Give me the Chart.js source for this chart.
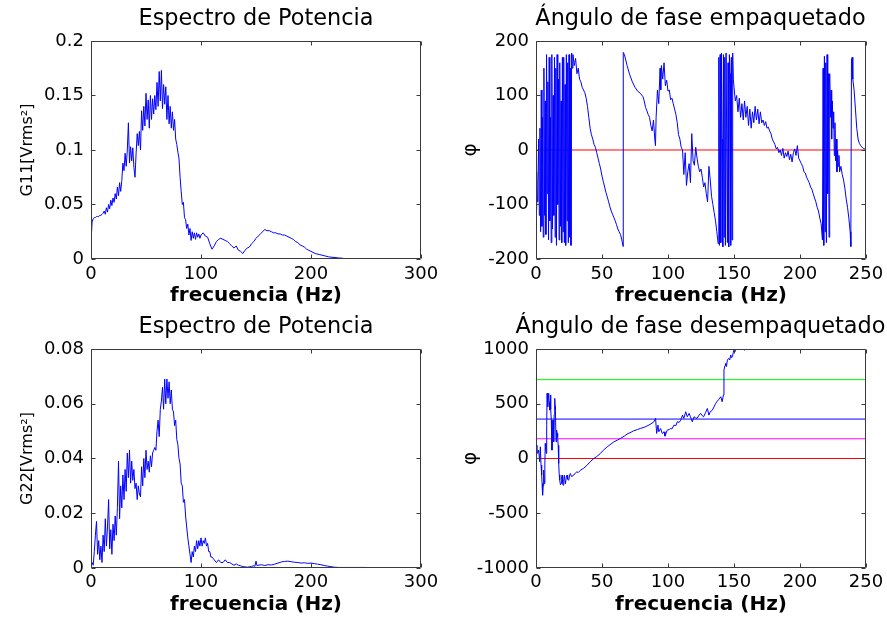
<!DOCTYPE html>
<html>
<head>
<meta charset="utf-8">
<title>Espectro de potencia y ángulo de fase</title>
<script src="https://cdn.jsdelivr.net/npm/chart.js@4/dist/chart.umd.min.js"></script>
<style>
  html, body { margin: 0; padding: 0; background: #fff; width: 887px; height: 624px; overflow: hidden; }
  .panel { position: absolute; }
  .panel canvas { display: block; }
</style>
</head>
<body>
<div class="panel" style="left:0;top:0"><canvas id="g11" width="512" height="312"></canvas></div>
<div class="panel" style="left:443px;top:0"><canvas id="wrap" width="515" height="312"></canvas></div>
<div class="panel" style="left:0;top:312px"><canvas id="g22" width="512" height="312"></canvas></div>
<div class="panel" style="left:443px;top:312px"><canvas id="unwrap" width="515" height="312"></canvas></div>
<script>
// ── Data ─────────────────────────────────────────────────────────
const freqG11 = [
  0,1,2,3,4,5,6,7,8,9,10,11,12,13,14,15,16,17,18,19,
  20,21,22,23,24,25,26,27,28,29,30,31,32,33,34,35,36,37,38,39,
  40,41,42,43,44,45,46,47,48,49,50,51,52,53,54,55,56,57,58,59,
  60,61,62,63,64,65,66,67,68,69,70,71,72,73,74,75,76,77,78,79,
  80,81,82,83,84,85,86,87,88,89,90,91,92,93,94,95,96,97,98,99,100,
  102,104,106,108,110,112,114,116,118,120,122,124,126,128,130,132,134,136,138,140,
  142,144,146,148,150,152,154,156,158,160,162,164,166,168,170,172,174,176,178,180,
  182,184,186,188,190,192,194,196,198,200,
  204,208,212,216,220,225,230,235,240,250
];
const valG11 = [
  0.015,0.034,0.037,0.038,0.038,0.039,0.039,0.039,0.040,0.040,
  0.041,0.042,0.044,0.041,0.047,0.043,0.050,0.046,0.054,0.049,
  0.056,0.052,0.060,0.055,0.066,0.058,0.070,0.062,0.072,0.088,
  0.081,0.097,0.085,0.100,0.125,0.088,0.103,0.090,0.102,0.084,
  0.075,0.097,0.115,0.104,0.117,0.100,0.136,0.118,0.140,0.122,
  0.152,0.128,0.146,0.120,0.150,0.128,0.147,0.133,0.150,0.137,
  0.162,0.140,0.172,0.145,0.173,0.138,0.160,0.142,0.158,0.128,
  0.150,0.124,0.140,0.120,0.135,0.118,0.128,0.110,0.105,0.098,
  0.092,0.075,0.062,0.050,0.052,0.038,0.036,0.028,0.032,0.022,
  0.028,0.017,0.025,0.019,0.024,0.018,0.024,0.020,0.023,0.019,0.022,
  0.024,0.021,0.020,0.014,0.009,0.012,0.016,0.018,0.019,0.018,
  0.017,0.016,0.014,0.012,0.010,0.012,0.008,0.007,0.005,0.008,
  0.010,0.011,0.014,0.016,0.019,0.021,0.023,0.025,0.027,0.026,
  0.026,0.025,0.024,0.024,0.023,0.023,0.022,0.022,0.021,0.020,
  0.019,0.018,0.016,0.015,0.013,0.012,0.011,0.009,0.008,0.007,
  0.005,0.004,0.003,0.002,0.0015,0.001,0.0005,0.0002,0.0001,0.0001
];

const freqG22 = [
  0,1,2,3,4,5,6,7,8,9,10,11,12,13,14,15,16,17,18,19,
  20,21,22,23,24,25,26,27,28,29,30,31,32,33,34,35,36,37,38,39,
  40,41,42,43,44,45,46,47,48,49,50,51,52,53,54,55,56,57,58,59,
  60,61,62,63,64,65,66,67,68,69,70,71,72,73,74,75,76,77,78,79,
  80,81,82,83,84,85,86,87,88,89,90,91,92,93,94,95,96,97,98,99,
  100,101,102,103,104,105,106,107,108,109,110,
  112,114,116,118,120,122,124,126,128,130,132,134,136,138,140,142,144,146,148,
  149,150,151,152,
  155,158,161,164,167,170,173,176,179,182,185,188,191,194,197,200,203,206,209,212,215,218,
  221,225,230,240,250
];
const valG22 = [
  0.001,0.002,0.001,0.006,0.012,0.017,0.005,0.010,0.003,0.008,
  0.002,0.012,0.006,0.018,0.008,0.015,0.025,0.007,0.014,0.005,
  0.016,0.010,0.019,0.012,0.022,0.039,0.018,0.030,0.022,0.034,
  0.025,0.036,0.028,0.042,0.033,0.043,0.031,0.039,0.032,0.036,
  0.029,0.031,0.025,0.030,0.027,0.026,0.037,0.030,0.040,0.033,
  0.043,0.036,0.039,0.035,0.041,0.037,0.042,0.043,0.044,0.043,
  0.050,0.054,0.048,0.058,0.061,0.066,0.058,0.069,0.060,0.069,
  0.062,0.068,0.060,0.065,0.058,0.057,0.052,0.054,0.047,0.045,
  0.040,0.038,0.031,0.030,0.024,0.025,0.019,0.015,0.011,0.008,
  0.005,0.002,0.006,0.004,0.008,0.006,0.010,0.007,0.010,0.008,
  0.011,0.008,0.010,0.009,0.011,0.008,0.009,0.006,0.006,0.004,0.004,
  0.003,0.002,0.003,0.002,0.002,0.003,0.002,0.002,0.0015,0.001,0.0015,0.001,0.0008,0.0005,0.0004,0.0003,0.0004,0.0006,0.0008,
  0.0006,0.0025,0.0008,0.001,
  0.0012,0.0009,0.0012,0.0011,0.0014,0.0018,0.0022,0.0024,0.0025,0.0023,0.0021,0.0020,0.0018,0.0019,0.0017,0.0018,0.0016,0.0014,0.0012,0.0009,0.0007,0.0005,
  0.0003,0.0002,0.0002,0.0002,0.0002
];

// wrapped phase [frequency Hz, degrees]
const phaseWrapped = [
  [0,-110],[0.5,-40],[1,-95],[1.5,-60],[2,20],[2.5,-120],[3,40],[3.5,-150],[4,110],[4.5,-140],
  [5,60],[5.5,-160],[6,150],[6.5,-120],[7,90],[7.5,-155],[8,175],[8.5,-80],[9,125],[9.5,-165],
  [10,170],[10.5,-130],[11,60],[11.5,-170],[12,175],[12.5,-145],[13,100],[13.5,-120],[14,170],[14.5,-160],
  [15,150],[15.5,-175],[16,175],[16.5,-100],[17,130],[17.5,-165],[18,160],[18.5,-140],[19,90],[19.5,-170],
  [20,170],[20.5,-150],[21,170],[21.5,-170],[22,120],[22.5,-175],[23,175],[23.5,-130],[24,160],[24.5,-170],
  [25,175],[25.5,-160],[26,150],[26.5,-175],[27,178],[27.5,150],[28,175],
  [29,155],[30,168],[31,140],[32,150],[33,130],[34,125],[35,115],[36,110],[37,105],[38,95],
  [39,80],[40,60],[41,40],[42,28],[43,20],[44,10],[45,5],[46,-5],[47,-15],[48,-25],
  [49,-35],[50,-48],[51,-58],[52,-68],[53,-78],[54,-86],[55,-95],[56,-104],[57,-112],[58,-118],
  [59,-124],[60,-130],[61,-137],[62,-145],[63,-150],[64,-155],[65,-165],[66,-177],[66.1,179],
  [67,175],[69,155],[71,138],[73,125],[75,115],[77,108],[79,104],[81,98],[82,90],[83,78],
  [84,72],[85,65],[86,60],[87,45],[88,35],[89,55],[90,20],[90.5,8],[91,60],[92,110],
  [93,85],[94,150],[94.5,110],[95,155],[96,130],[97,160],[98,118],[99,128],[100,108],[101,110],
  [102,92],[103,95],[104,85],[105,75],[106,65],[107,50],[108,28],[109,20],[110,5],[111,0],
  [112,-45],[113,-5],[114,-65],[115,-40],[116,-25],[117,-60],[118,30],[119,-20],[120,-28],[121,5],
  [122,-15],[123,-30],[124,-40],[125,-35],[126,-50],[127,-68],[128,-60],[129,-80],[130,-95],[131,-30],
  [132,-55],[133,-85],[134,-100],[135,-115],[136,-130],[137,-150],[138,-172],[138.5,170],[139,-175],[139.5,175],
  [140,-170],[140.5,178],[141,20],[141.5,-178],[142,175],[142.5,-160],[143,170],[143.5,-175],[144,178],[145,-170],
  [145.5,160],[146,-178],[146.5,175],[147,140],[147.5,-175],[148,170],[148.5,-165],[149,178],[149.5,130],[150,115],
  [151,90],[152,100],[153,70],[154,95],[155,60],[156,85],[157,55],[158,90],[159,60],[160,80],
  [161,45],[162,75],[163,40],[164,70],[165,50],[166,80],[167,55],[168,75],[169,48],[170,70],
  [171,50],[172,55],[173,45],[174,52],[175,40],[176,42],[177,35],[178,30],[179,20],[180,15],
  [181,10],[182,2],[183,5],[184,-5],[185,0],[186,-10],[187,3],[188,-15],[189,-5],[190,-12],
  [191,-2],[192,-18],[193,-8],[194,-22],[195,-5],[196,2],[197,-10],[198,8],[199,-15],[200,-20],
  [201,-25],[202,-30],[203,-40],[204,-42],[205,-50],[206,-55],[207,-60],[208,-68],[209,-72],[210,-80],
  [211,-88],[212,-95],[213,-105],[214,-112],[215,-125],[216,-135],[217,-165],[217.5,150],[218,-175],[218.5,172],
  [219,-150],[219.5,160],[220,-170],[220.5,175],[221,-80],[221.5,140],[222,-160],[222.5,140],[223,60],[223.5,110],
  [224,20],[224.5,90],[225,40],[225.5,70],[226,-10],[226.5,50],[227,-20],[227.5,20],[228,-40],[228.5,0],
  [229,-30],[229.5,-10],[230,-40],[231,-30],[232,-45],[233,-55],[234,-70],[235,-90],[236,-105],[237,-125],
  [238,-150],[238.5,-177],[239,165],[239.5,170],[240,130],[241,110],[242,75],[243,40],[244,20],[245,12],
  [246,8],[247,5],[248,3],[249,2],[250,0]
];

// unwrapped phase [frequency Hz, degrees]
const phaseUnwrapped = [
  [0,122],[0.7,60],[1.3,46],[2,76],[2.8,-30],[3.3,107],[3.8,-61],[4.3,-150],[4.6,-229],[5,-335],
  [5.4,-250],[5.8,-107],[6.3,-229],[6.7,-60],[7,137],[7.4,80],[7.8,46],[8.1,300],[8.4,595],[8.7,500],
  [9,472],[9.3,560],[9.6,595],[10,510],[10.4,442],[10.7,520],[11,579],[11.3,450],[11.6,350],[12.1,76],
  [12.5,200],[12.9,350],[13.4,152],[13.8,400],[14.2,549],[14.5,480],[14.7,442],[15.2,152],[15.6,260],[16,229],
  [16.4,198],[16.8,120],[17.2,-46],[17.6,-150],[18,-198],[18.5,-240],[19,-229],[19.4,-190],[19.7,-152],[20.1,-220],
  [20.5,-244],[21,-190],[21.5,-152],[22,-210],[22.3,-229],[23,-170],[23.5,-152],[24,-190],[24.8,-198],[25.4,-160],
  [26,-137],[27,-165],[28.6,-152],[30,-130],[31,-122],[32,-128],[33.7,-107],[36,-90],[38.7,-61],[41,-30],
  [43.8,0],[46,18],[48.8,46],[51,75],[54,107],[56,125],[59,152],[62,170],[64,183],[67,205],
  [69,223],[72,240],[74,253],[77,265],[79,274],[82,285],[84,296],[87,315],[89.3,335],[90.6,366],
  [91.4,229],[92.4,305],[93,244],[94.4,274],[95.6,229],[97,244],[97.7,204],[99.4,259],[101,265],[102,274],
  [103,270],[104.5,305],[106,300],[107,335],[108.5,330],[109.6,350],[111,396],[112,366],[113.4,427],[114.6,381],
  [116,412],[117,381],[118.4,335],[119.7,381],[121,370],[122,366],[123.5,395],[124.7,412],[126,390],[127,381],
  [128.5,420],[129.8,457],[131,396],[132,427],[133.5,440],[134.9,472],[136,500],[137,518],[138.5,540],[140,564],
  [141,518],[142,579],[142.4,808],[143.2,850],[143.7,869],[144.3,840],[145,899],[146,915],[146.8,900],[147.5,945],
  [148.2,920],[148.8,930],[149.4,965],[150,991],[150.6,975],[151,1000],[152,1010],[154,995],[156,1005],[158,990],
  [160,1004],[162,995],[164,1005],[166,1030],[170,1060],[180,1100],[190,1150],[200,1180],[210,1220],[220,1260],
  [230,1290],[240,1330],[250,1360]
];

// reference levels drawn over the unwrapped phase (degrees)
const refLevels = [0, 180, 360, 720];
const refColors = ['#ff0000', '#ff00ff', '#0000ff', '#00ff00'];

// axis ticks
const ticksSpecX = [0, 100, 200, 300];
const ticksPhaseX = [0, 50, 100, 150, 200, 250];
const ticksG11Y = [0, 0.05, 0.1, 0.15, 0.2];
const ticksG22Y = [0, 0.02, 0.04, 0.06, 0.08];
const ticksWrapY = [-200, -100, 0, 100, 200];
const ticksUnwrapY = [-1000, -500, 0, 500, 1000];

// ── Styling ──────────────────────────────────────────────────────
const FAMILY = '"DejaVu Sans", "Liberation Sans", Arial, sans-serif';
const tickFont = { family: FAMILY, size: 18 };
const titleFont = { family: FAMILY, size: 22.4, weight: 'normal' };
const xLabelFont = { family: FAMILY, size: 20, weight: 'bold' };
const LINE = '#0000ff';

// MATLAB-like box with inward ticks on all four sides
const axesBox = {
  id: 'axesBox',
  afterDatasetsDraw(chart) {
    const { ctx, chartArea: a, scales: { x, y } } = chart;
    const len = 4;
    const L = Math.round(a.left) + 0.5, R = Math.round(a.right) - 0.5;
    const T = Math.round(a.top) + 0.5, B = Math.round(a.bottom) - 0.5;
    ctx.save();
    ctx.strokeStyle = '#3a3a3a';
    ctx.lineWidth = 1;
    ctx.beginPath();
    x.ticks.forEach(t => {
      const px = Math.round(x.getPixelForValue(t.value)) + 0.5;
      ctx.moveTo(px, B); ctx.lineTo(px, B - len);
      ctx.moveTo(px, T); ctx.lineTo(px, T + len);
    });
    y.ticks.forEach(t => {
      const py = Math.round(y.getPixelForValue(t.value)) + 0.5;
      ctx.moveTo(L, py); ctx.lineTo(L + len, py);
      ctx.moveTo(R, py); ctx.lineTo(R - len, py);
    });
    ctx.rect(L, T, R - L, B - T);
    ctx.stroke();
    ctx.restore();
  }
};

function toPoints(xs, ys) {
  return xs.map((f, i) => ({ x: f, y: ys[i] }));
}

function pairPoints(pairs) {
  return pairs.map(([f, v]) => ({ x: f, y: v }));
}

function lineSet(data, color) {
  return { data, borderColor: color, borderWidth: 1, pointRadius: 0, tension: 0, fill: false };
}

// ── Build one subplot ────────────────────────────────────────────
// An empty right-hand axis reserves the gutter so the title stays centred over the plot.
function makePlot(id, cfg) {
  const xt = cfg.xTicks, yt = cfg.yTicks;
  return new Chart(document.getElementById(id), {
    type: 'line',
    data: { datasets: cfg.datasets },
    options: {
      responsive: false,
      animation: false,
      devicePixelRatio: 1,
      events: [],
      layout: { padding: 0 },
      plugins: {
        legend: { display: false },
        tooltip: { enabled: false },
        title: {
          display: true, text: cfg.title, color: '#000', font: titleFont,
          padding: { top: cfg.titleTop, bottom: cfg.titleBottom }
        }
      },
      scales: {
        x: {
          type: 'linear', min: xt[0], max: xt[xt.length - 1],
          afterBuildTicks: s => { s.ticks = xt.map(v => ({ value: v })); },
          afterFit: s => { s.height = cfg.xHeight; s.paddingLeft = 0; s.paddingRight = 0; },
          grid: { display: false, drawTicks: false },
          border: { display: false },
          ticks: { color: '#000', font: tickFont, padding: cfg.xTickPad, maxRotation: 0, autoSkip: false, callback: v => String(v) },
          title: { display: true, text: 'frecuencia (Hz)', color: '#000', font: xLabelFont, padding: { top: 0, bottom: cfg.xLabelPad } }
        },
        y: {
          type: 'linear', min: yt[0], max: yt[yt.length - 1],
          afterBuildTicks: s => { s.ticks = yt.map(v => ({ value: v })); },
          afterFit: s => { s.width = cfg.yWidth; s.paddingTop = 0; s.paddingBottom = 0; },
          grid: { display: false, drawTicks: false },
          border: { display: false },
          ticks: { color: '#000', font: tickFont, padding: 7, autoSkip: false, callback: v => String(v) },
          title: { display: true, text: cfg.yLabel, color: '#000', font: cfg.yLabelFont, padding: { top: cfg.yLabelPad, bottom: 0 } }
        },
        gutter: {
          type: 'linear', position: 'right',
          afterFit: s => { s.width = cfg.padRight; s.paddingTop = 0; s.paddingBottom = 0; },
          grid: { display: false, drawTicks: false },
          border: { display: false },
          ticks: { display: false }
        }
      }
    },
    plugins: [axesBox]
  });
}

const refSets = refLevels.map((lv, i) =>
  lineSet([{ x: ticksPhaseX[0], y: lv }, { x: ticksPhaseX[ticksPhaseX.length - 1], y: lv }], refColors[i]));

makePlot('g11', {
  title: 'Espectro de Potencia', yLabel: 'G11[Vrms²]', yLabelFont: { family: FAMILY, size: 16 },
  xTicks: ticksSpecX, yTicks: ticksG11Y,
  datasets: [lineSet(toPoints(freqG11, valG11), LINE)],
  padRight: 91, yWidth: 91, xHeight: 53, titleTop: 6.2, titleBottom: 7.9,
  xTickPad: 4.4, xLabelPad: 4.2, yLabelPad: 18
});

makePlot('wrap', {
  title: 'Ángulo de fase empaquetado', yLabel: 'φ', yLabelFont: { family: FAMILY, size: 20 },
  xTicks: ticksPhaseX, yTicks: ticksWrapY,
  datasets: [lineSet(pairPoints(phaseWrapped), LINE), refSets[0]],
  padRight: 92, yWidth: 93, xHeight: 53, titleTop: 6.2, titleBottom: 7.9,
  xTickPad: 4.4, xLabelPad: 4.2, yLabelPad: 16
});

makePlot('g22', {
  title: 'Espectro de Potencia', yLabel: 'G22[Vrms²]', yLabelFont: { family: FAMILY, size: 16 },
  xTicks: ticksSpecX, yTicks: ticksG22Y,
  datasets: [lineSet(toPoints(freqG22, valG22), LINE)],
  padRight: 91, yWidth: 91, xHeight: 56, titleTop: 2.2, titleBottom: 7.9,
  xTickPad: 3.4, xLabelPad: 7.2, yLabelPad: 18
});

makePlot('unwrap', {
  title: 'Ángulo de fase desempaquetado', yLabel: 'φ', yLabelFont: { family: FAMILY, size: 20 },
  xTicks: ticksPhaseX, yTicks: ticksUnwrapY,
  datasets: [lineSet(pairPoints(phaseUnwrapped), LINE)].concat(refSets),
  padRight: 92, yWidth: 93, xHeight: 56, titleTop: 2.2, titleBottom: 7.9,
  xTickPad: 3.4, xLabelPad: 7.2, yLabelPad: 16
});
</script>
</body>
</html>
